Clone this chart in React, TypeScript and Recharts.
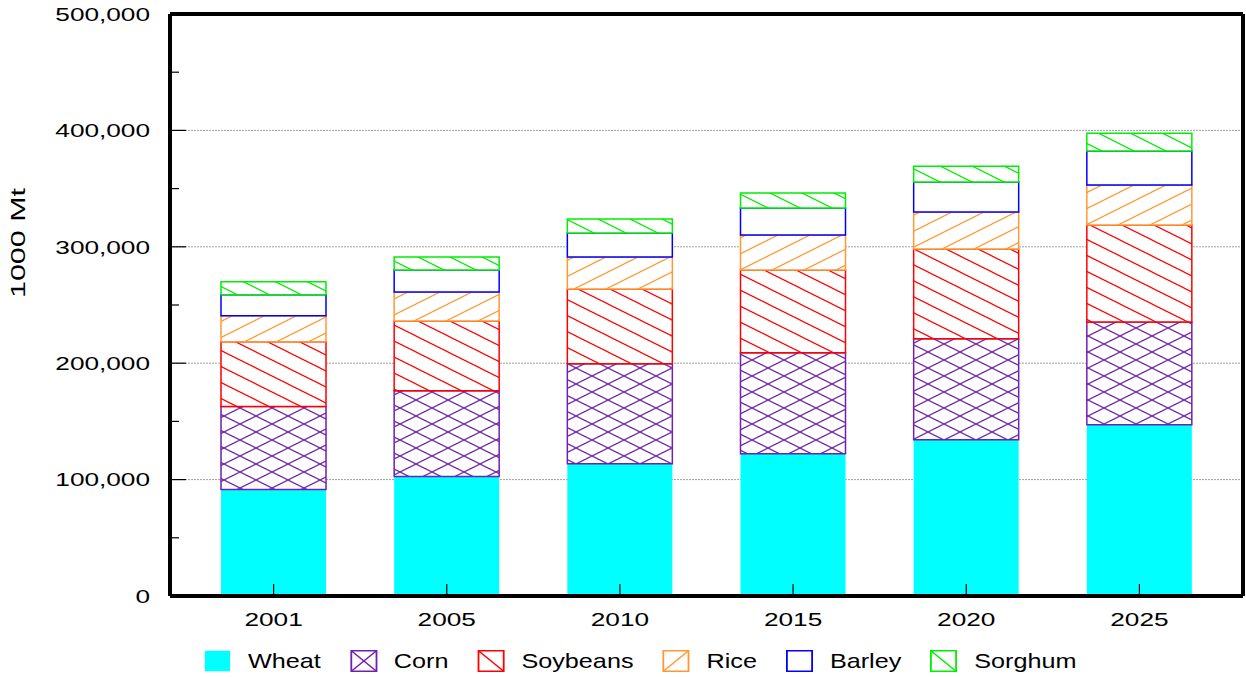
import React from 'react';
import { BarChart, Bar, XAxis, YAxis, CartesianGrid } from 'recharts';

const years = ['2001', '2005', '2010', '2015', '2020', '2025'];
const wheat = [91400, 102600, 113700, 122300, 134300, 147200];
const corn = [71300, 73700, 85800, 86600, 86600, 88300];
const soybeans = [55700, 60000, 64300, 71200, 77200, 83200];
const rice = [22300, 24900, 27400, 30000, 31700, 34300];
const barley = [18000, 18900, 20600, 23200, 25800, 29200];
const sorghum = [11200, 11100, 12000, 12900, 13700, 15400];

const yTicks = [0, 50000, 100000, 150000, 200000, 250000, 300000, 350000, 400000, 450000, 500000];
const gridValues = [100000, 200000, 300000, 400000];

const FONT = '"Liberation Sans", Arial, sans-serif';
const STRETCH = 1.38;
const LEGEND_STRETCH = 1.2;

type Hatch = 'solid' | 'none' | 'down' | 'up' | 'cross';

const series: { key: string; name: string; values: number[]; color: string; hatch: Hatch }[] = [
  { key: 'wheat', name: 'Wheat', values: wheat, color: '#00ffff', hatch: 'solid' },
  { key: 'corn', name: 'Corn', values: corn, color: '#7020b0', hatch: 'cross' },
  { key: 'soybeans', name: 'Soybeans', values: soybeans, color: '#ff0000', hatch: 'down' },
  { key: 'rice', name: 'Rice', values: rice, color: '#ff9933', hatch: 'up' },
  { key: 'barley', name: 'Barley', values: barley, color: '#0000ff', hatch: 'none' },
  { key: 'sorghum', name: 'Sorghum', values: sorghum, color: '#00ee00', hatch: 'down' },
];

const data = years.map((year, i) => {
  const row: Record<string, string | number> = { year };
  series.forEach((s) => {
    row[s.key] = s.values[i];
  });
  return row;
});

const DOWN = 'M-32,-16L64,32M-32,0L64,48M-32,-32L64,16';
const UP = 'M-32,32L64,-16M-32,16L64,-32M-32,48L64,0';

function fillFor(s: (typeof series)[number]) {
  if (s.hatch === 'solid') return s.color;
  if (s.hatch === 'none') return '#ffffff';
  return `url(#hatch-${s.key})`;
}

function Patterns() {
  return (
    <svg width={0} height={0} style={{ position: 'absolute' }}>
      <defs>
        {series
          .filter((s) => s.hatch === 'down' || s.hatch === 'up' || s.hatch === 'cross')
          .map((s) => (
            <pattern key={s.key} id={`hatch-${s.key}`} patternUnits="userSpaceOnUse" width={32} height={16}>
              <rect width={32} height={16} fill="#fff" />
              <path
                d={s.hatch === 'down' ? DOWN : s.hatch === 'up' ? UP : DOWN + UP}
                stroke={s.color}
                strokeWidth={1.2}
                fill="none"
              />
            </pattern>
          ))}
      </defs>
    </svg>
  );
}

const Y_MARGIN = 20;
const X_MARGIN = 16;

const fmt = (v: number) => String(v).replace(/\B(?=(\d{3})+(?!\d))/g, ',');

function YTick(props: any) {
  const { x, y, payload } = props;
  const v = payload.value as number;
  const major = v % 100000 === 0;
  const axisX = x + Y_MARGIN;
  return (
    <g>
      <line x1={axisX} x2={axisX + (major ? 16 : 9)} y1={y} y2={y} stroke="#000" strokeWidth={1.2} />
      {major && (
        <text
          transform={`translate(${x},${y}) scale(${STRETCH},1)`}
          textAnchor="end"
          dy="0.36em"
          fontSize={19}
          fontFamily={FONT}
          fill="#000"
        >
          {fmt(v)}
        </text>
      )}
    </g>
  );
}

function XTick(props: any) {
  const { x, y, payload } = props;
  const axisY = y - X_MARGIN;
  return (
    <g>
      <line x1={x} x2={x} y1={axisY} y2={axisY - 12} stroke="#000" strokeWidth={1.2} />
      <text
        transform={`translate(${x},${y + 14}) scale(${STRETCH},1)`}
        textAnchor="middle"
        fontSize={19}
        fontFamily={FONT}
        fill="#000"
      >
        {payload.value}
      </text>
    </g>
  );
}

function YLabel() {
  return (
    <text
      transform={`translate(18,243) rotate(-90) scale(1.45,1)`}
      textAnchor="middle"
      dominantBaseline="central"
      fontSize={21}
      fontFamily={FONT}
      fill="#000"
    >
      1000 Mt
    </text>
  );
}

function Swatch({ s }: { s: (typeof series)[number] }) {
  const w = 27 / LEGEND_STRETCH;
  const h = 22;
  return (
    <svg width={w} height={h} style={{ display: 'block', overflow: 'visible' }}>
      <rect
        x={0.75}
        y={0.75}
        width={w - 1.5}
        height={h - 1.5}
        fill={s.hatch === 'solid' ? s.color : '#fff'}
        stroke={s.hatch === 'solid' ? 'none' : s.color}
        strokeWidth={1.5}
      />
      {(s.hatch === 'down' || s.hatch === 'cross') && (
        <line x1={0.75} y1={0.75} x2={w - 0.75} y2={h - 0.75} stroke={s.color} strokeWidth={1.2} />
      )}
      {(s.hatch === 'up' || s.hatch === 'cross') && (
        <line x1={0.75} y1={h - 0.75} x2={w - 0.75} y2={0.75} stroke={s.color} strokeWidth={1.2} />
      )}
    </svg>
  );
}

function LegendRow() {
  return (
    <div
      style={{
        position: 'absolute',
        left: 204,
        top: 650,
        height: 22,
        display: 'flex',
        alignItems: 'center',
        transform: `scaleX(${LEGEND_STRETCH})`,
        transformOrigin: '0 0',
        fontFamily: FONT,
        fontSize: 21,
        color: '#000',
        whiteSpace: 'nowrap',
      }}
    >
      {series.map((s) => (
        <div key={s.key} style={{ display: 'flex', alignItems: 'center', marginRight: 29 / LEGEND_STRETCH }}>
          <Swatch s={s} />
          <span style={{ marginLeft: 17 / LEGEND_STRETCH, lineHeight: '22px' }}>{s.name}</span>
        </div>
      ))}
    </div>
  );
}

export default function App() {
  const border = { stroke: '#000', strokeWidth: 4 };
  return (
    <div style={{ position: 'absolute', left: 0, top: 0, width: 1246, height: 677, background: '#fff' }}>
      <Patterns />
      <BarChart width={1246} height={677} data={data} margin={{ top: 13, right: 2, bottom: 0, left: 0 }}>
        <CartesianGrid
          vertical={false}
          horizontalValues={gridValues}
          stroke="#a0a0a0"
          strokeDasharray="2 1"
        />
        {series.map((s) => (
          <Bar
            key={s.key}
            dataKey={s.key}
            name={s.name}
            stackId="crops"
            fill={fillFor(s)}
            stroke={s.hatch === 'solid' ? 'none' : s.color}
            strokeWidth={1.5}
            barSize={105}
            isAnimationActive={false}
          />
        ))}
        <XAxis
          dataKey="year"
          height={81}
          padding={{ left: 17, right: 17 }}
          tickSize={0}
          tickMargin={X_MARGIN}
          tickLine={false}
          axisLine={border}
          tick={<XTick />}
          interval={0}
        />
        <XAxis
          xAxisId="top"
          orientation="top"
          dataKey="year"
          height={1}
          padding={{ left: 17, right: 17 }}
          tick={false}
          tickLine={false}
          axisLine={border}
        />
        <YAxis
          type="number"
          domain={[0, 500000]}
          ticks={yTicks}
          interval={0}
          width={170}
          tickSize={0}
          tickMargin={Y_MARGIN}
          tickLine={false}
          axisLine={border}
          tick={<YTick />}
          label={{ content: () => <YLabel /> }}
        />
        <YAxis
          yAxisId="right"
          orientation="right"
          type="number"
          domain={[0, 500000]}
          width={1}
          tick={false}
          tickLine={false}
          axisLine={border}
        />
      </BarChart>
      <LegendRow />
    </div>
  );
}
